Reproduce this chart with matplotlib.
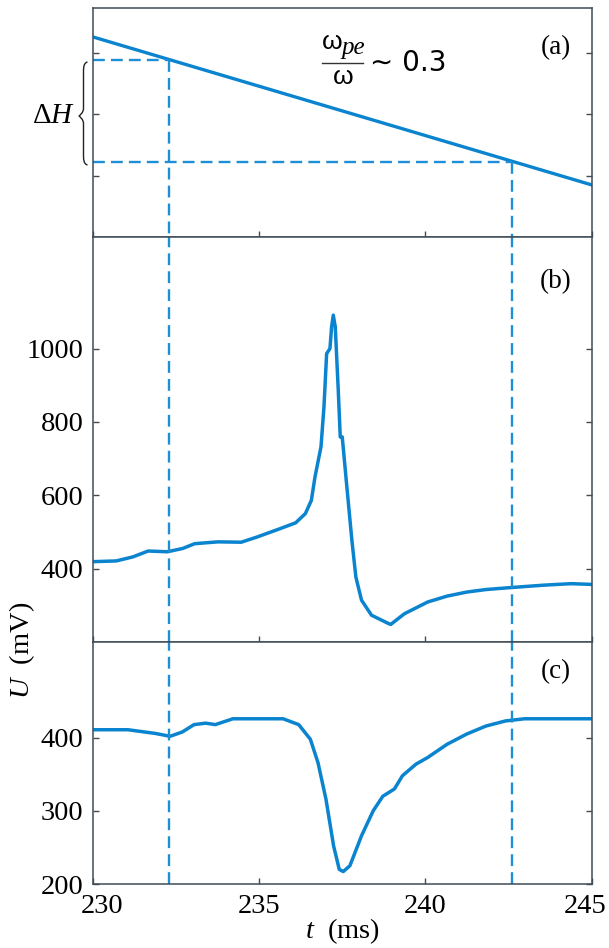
import numpy as np
import matplotlib.pyplot as plt
from matplotlib.path import Path
from matplotlib.patches import PathPatch
from matplotlib.lines import Line2D
from matplotlib.transforms import ScaledTranslation

plt.rcParams['font.family'] = ['Liberation Serif', 'DejaVu Serif']
plt.rcParams['mathtext.fontset'] = 'custom'
plt.rcParams['mathtext.rm'] = 'Liberation Serif'
plt.rcParams['mathtext.it'] = 'Liberation Serif:italic'

# panel (a): magnetic field ramp (arbitrary units)
t_h = [230, 245]
h = [3.26, 0.85]
# resonance crossing times and levels
t_marks = [232.3, 242.6]
h_marks = [2.89, 1.23]

# panel (b): U (mV)
t_b = [230.0, 230.7, 231.2, 231.66, 232.24, 232.7, 233.06, 233.76, 234.46, 234.93,
       235.63, 236.1, 236.39, 236.57, 236.68, 236.86, 236.95, 237.03, 237.13, 237.18,
       237.23, 237.29, 237.38, 237.44, 237.5, 237.62, 237.79, 237.91, 238.08, 238.38,
       238.9, 238.96, 239.37, 240.07, 240.65, 241.24, 241.82, 242.52, 243.57, 244.39, 245.0]
u_b = [419, 421, 432, 448, 446, 455, 468, 473, 472, 486,
       509, 525, 550, 586, 650, 732, 841, 986, 1000, 1059,
       1091, 1059, 886, 759, 759, 641, 477, 377, 314, 273,
       250, 248, 277, 309, 325, 336, 343, 348, 355, 359, 357]

# panel (c): U (mV)
t_c = [230.0, 231.05, 231.87, 232.32, 232.69, 233.04, 233.39, 233.68, 234.21, 234.79,
       235.72, 236.19, 236.54, 236.77, 237.01, 237.24, 237.41, 237.53, 237.73, 238.08,
       238.43, 238.72, 239.07, 239.31, 239.72, 240.07, 240.65, 241.24, 241.82, 242.41,
       242.99, 243.57, 245.0]
u_c = [411, 411, 406, 402, 408, 418, 420, 418, 426, 426,
       426, 418, 398, 366, 316, 252, 220, 217, 225, 266,
       300, 320, 330, 348, 364, 373, 391, 405, 416, 423,
       426, 426, 426]

blue = '#0a84cf'
dblue = '#1c8fd6'
spine_col = '#3f4c56'
fs = 20.5

fig = plt.figure(figsize=(6.09, 9.48), dpi=100)
L, W = 93 / 609, 498.5 / 609
axa = fig.add_axes([L, 1 - 237 / 948, W, 229.5 / 948])
axb = fig.add_axes([L, 1 - 642 / 948, W, 405 / 948])
axc = fig.add_axes([L, 1 - 884 / 948, W, 242 / 948])

dash = dict(color=dblue, lw=1.7, dashes=(5, 2.6))

axa.plot(t_h, h, color=blue, lw=2.4)
for tm, hm in zip(t_marks, h_marks):
    axa.plot([230, tm], [hm, hm], **dash)
    axa.plot([tm, tm], [hm, 0], **dash)
axa.set_ylim(0, 3.74)
axa.set_yticks([1, 2, 3])
axa.set_yticklabels([])

axb.plot(t_b, u_b, color=blue, lw=2.5)
axb.set_ylim(200, 1304)
axb.set_yticks([400, 600, 800, 1000])

axc.plot(t_c, u_c, color=blue, lw=2.5)
axc.set_ylim(200, 531)
axc.set_yticks([200, 300, 400])

for ax in (axb, axc):
    for tm in t_marks:
        ax.axvline(tm, **dash)

for ax in (axa, axb, axc):
    ax.set_xlim(230, 245)
    ax.set_xticks([230, 235, 240, 245])
    ax.tick_params(direction='in', right=True, top=False, length=4, width=1,
                   color=spine_col, labelsize=fs, pad=7)
    for s in ax.spines.values():
        s.set_color(spine_col)
        s.set_linewidth(1.1)
axa.set_xticklabels([])
axb.set_xticklabels([])

# nudge the end labels inward as in the original
xl = axc.get_xticklabels()
xl[0].set_transform(xl[0].get_transform() + ScaledTranslation(9 / 100, 0, fig.dpi_scale_trans))
xl[-1].set_transform(xl[-1].get_transform() + ScaledTranslation(-6 / 100, 0, fig.dpi_scale_trans))

axc.set_xlabel(r'$t$  (ms)', fontsize=fs, labelpad=-2)
fig.text(22 / 609, 1 - 650 / 948, r'$U$  (mV)', rotation=90, fontsize=fs,
         ha='center', va='center')

for ax, lab, ypx in ((axa, '(a)', 48), (axb, '(b)', 282), (axc, '(c)', 672)):
    fig.text(556 / 609, 1 - ypx / 948, lab, fontsize=19.5, ha='center', va='center')

# omega_pe / omega ~ 0.3
sans = 'Liberation Sans'
fig.text(332 / 609, 1 - 42 / 948, 'ω', family=sans, fontsize=19, ha='center', va='center')
fig.text(341 / 609, 1 - 48 / 948, 'pe', style='italic', fontsize=18, ha='left', va='center')
fig.add_artist(Line2D([322 / 609, 363 / 609], [1 - 62.5 / 948, 1 - 62.5 / 948],
                      transform=fig.transFigure, color='#333333', lw=1.0))
fig.text(343 / 609, 1 - 77 / 948, 'ω', family=sans, fontsize=19, ha='center', va='center')
fig.text(370 / 609, 1 - 63 / 948, '\u223c 0.3', family=['DejaVu Sans'], fontsize=20,
         ha='left', va='center')

# Delta H with brace
fig.text(54 / 609, 1 - 116 / 948, r'Δ$H$', fontsize=21, ha='center', va='center')


def fx(x):
    return x / 609


def fy(y):
    return 1 - y / 948


x0, xt, xm = 87.5, 79, 83.5
y0, ym, y1 = 62, 116, 165
verts = [(fx(x0), fy(y0)),
         (fx(xm), fy(y0 + 1)), (fx(xm), fy(y0 + 6)), (fx(xm), fy(y0 + 10)),
         (fx(xm), fy(ym - 8)),
         (fx(xm), fy(ym - 3)), (fx(xt + 1), fy(ym - 1)), (fx(xt), fy(ym)),
         (fx(xt + 1), fy(ym + 1)), (fx(xm), fy(ym + 3)), (fx(xm), fy(ym + 8)),
         (fx(xm), fy(y1 - 10)),
         (fx(xm), fy(y1 - 6)), (fx(xm), fy(y1 - 1)), (fx(x0), fy(y1))]
codes = [Path.MOVETO,
         Path.CURVE4, Path.CURVE4, Path.CURVE4,
         Path.LINETO,
         Path.CURVE4, Path.CURVE4, Path.CURVE4,
         Path.CURVE4, Path.CURVE4, Path.CURVE4,
         Path.LINETO,
         Path.CURVE4, Path.CURVE4, Path.CURVE4]
fig.add_artist(PathPatch(Path(verts, codes), transform=fig.transFigure,
                         fill=False, lw=1.0, edgecolor='#222222'))

fig.savefig('out.png', dpi=100)
